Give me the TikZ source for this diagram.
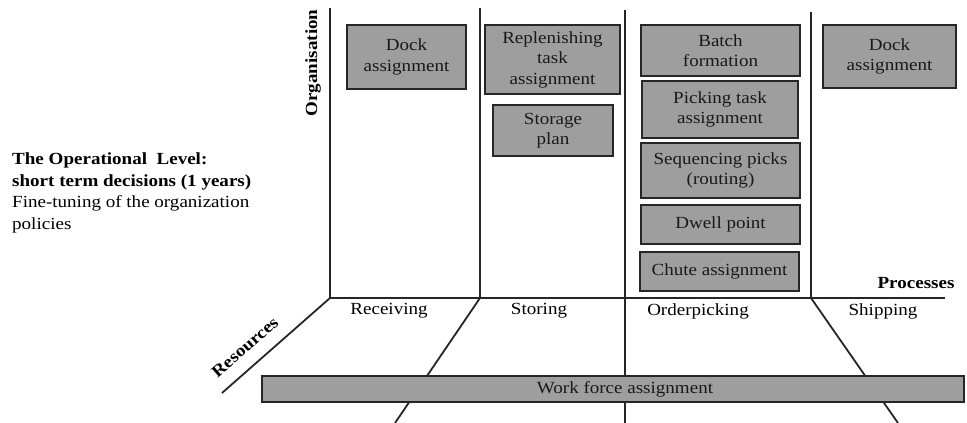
\documentclass[tikz,border=0pt]{standalone}
\usepackage{fontspec}
\setmainfont{Liberation Serif}[FakeStretch=1.12]
\begin{document}
\begin{tikzpicture}[x=1pt,y=-1pt,
  txt/.style={font=\fontsize{17}{20.5}\selectfont, inner sep=0pt},
  boldtxt/.style={font=\fontsize{17}{20.5}\selectfont\bfseries, inner sep=0pt},
  axis/.style={line width=1.8pt, black!85},
  thin axis/.style={line width=1.4pt, black!85},
  dbox/.style={draw=black!85, line width=1.6pt, fill=black!38, inner sep=0pt,
    align=center, font=\fontsize{17}{20.5}\selectfont, text=black!90}]
\useasboundingbox (0,0) rectangle (967,423);

% coordinates of the frame
\coordinate (o) at (330,298);
\coordinate (otop) at (330,8);
\coordinate (b2) at (480,298);
\coordinate (t2) at (480,8);
\coordinate (b3) at (625,298);
\coordinate (t3) at (625,10);
\coordinate (e3) at (625,423);
\coordinate (b4) at (811,298);
\coordinate (t4) at (811,12);
\coordinate (pend) at (945,298);
\coordinate (rend) at (222,393);
\coordinate (d2end) at (395,423);
\coordinate (d4end) at (898,423);

% axes and dividers
\draw[axis] (otop) -- (o);
\draw[axis] (t2) -- (b2);
\draw[axis] (t3) -- (e3);
\draw[axis] (t4) -- (b4);
\draw[axis] (o) -- (pend);
\draw[axis] (o) -- (rend);
\draw[axis] (b2) -- (d2end);
\draw[axis] (b4) -- (d4end);

% work force bar
\node[dbox, minimum width=702pt, minimum height=26pt] (bar) at (613,389) {\hspace*{24pt}Work force assignment};

% decision boxes
\node[dbox, minimum width=119pt, minimum height=64pt] (dockR) at (406.5,57) {Dock\\assignment};
\node[dbox, minimum width=135pt, minimum height=69pt] (repl) at (552.5,59.5) {Replenishing\\task\\assignment};
\node[dbox, minimum width=120pt, minimum height=51pt] (stor) at (553,130.5) {Storage\\plan};
\node[dbox, minimum width=159pt, minimum height=51pt] (batch) at (720.5,50.5) {Batch\\formation};
\node[dbox, minimum width=156pt, minimum height=57pt] (pick) at (720,109.5) {Picking task\\assignment};
\node[dbox, minimum width=159pt, minimum height=55pt] (seq) at (720.5,170.5) {Sequencing picks\\(routing)};
\node[dbox, minimum width=159pt, minimum height=39pt] (dwell) at (720.5,224.5) {Dwell point};
\node[dbox, minimum width=159pt, minimum height=39pt] (chute) at (719.5,271.5) {Chute assignment};
\node[dbox, minimum width=133pt, minimum height=63pt] (dockS) at (889.5,56.5) {Dock\\assignment};

% axis labels
\node[boldtxt, rotate=90] (org) at (313,63) {Organisation};
\node[boldtxt] (proc) at (916,283) {Processes};
\node[boldtxt, rotate=41] (res) at (245,347) {Resources};

% process labels
\node[txt] (recv) at (389,311) {Receiving};
\node[txt] (storing) at (539,311) {Storing};
\node[txt] (orderp) at (698,311) {Orderpicking};
\node[txt] (ship) at (883,311) {Shipping};

% left description
\node[txt, anchor=north west, align=left, font=\fontsize{17}{21.5}\selectfont] (desc) at (12,153)
  {\textbf{The Operational\ \ Level:}\\
   \textbf{short term decisions (1 years)}\\
   Fine-tuning of the organization\\
   policies};
\end{tikzpicture}
\end{document}
